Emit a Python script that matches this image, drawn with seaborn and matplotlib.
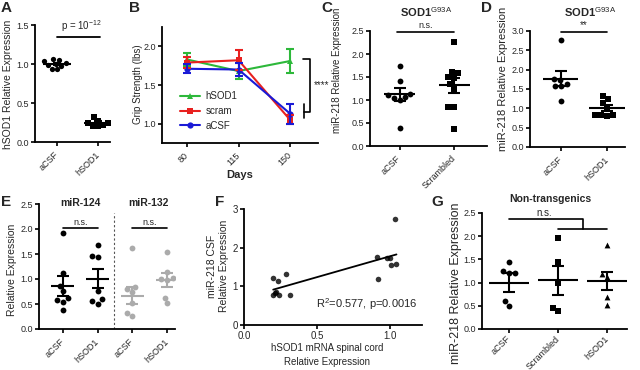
import warnings
import numpy as np
import pandas as pd
import matplotlib
matplotlib.use('Agg')
import matplotlib.pyplot as plt
import seaborn as sns

warnings.filterwarnings('ignore')

# =================================================================
# Data
# =================================================================
# A - hSOD1 knockdown
a_groups = ['aCSF', 'hSOD1']
a_acsf = [1.06, 1.05, 1.04, 1.01, 1.00, 0.99, 0.98, 0.94, 0.93]
a_hsod1 = [0.32, 0.27, 0.25, 0.25, 0.24, 0.22, 0.21, 0.20]
a_mean = [1.00, 0.25]
a_sem = [0.015, 0.013]

# B - grip strength
b_days = [80, 115, 150]
b_series = ['hSOD1', 'scram', 'aCSF']
b_hsod1 = [1.83, 1.68, 1.81]
b_hsod1_sem = [0.08, 0.10, 0.15]
b_scram = [1.79, 1.82, 1.05]
b_scram_sem = [0.07, 0.13, 0.06]
b_acsf = [1.71, 1.70, 1.13]
b_acsf_sem = [0.06, 0.08, 0.13]

# C - miR-218, aCSF vs scrambled
c_groups = ['aCSF', 'Scrambled']
c_acsf = [1.75, 1.41, 1.12, 1.10, 1.06, 1.04, 1.00, 0.40]
c_scram = [2.26, 1.60, 1.58, 1.50, 1.48, 1.35, 1.25, 0.85, 0.85, 0.37]
c_mean = [1.12, 1.32]
c_sem = [0.14, 0.16]

# D - miR-218, aCSF vs hSOD1
d_groups = ['aCSF', 'hSOD1']
d_acsf = [2.78, 1.75, 1.72, 1.62, 1.58, 1.57, 1.20]
d_hsod1 = [1.33, 1.25, 1.15, 1.03, 0.82, 0.82, 0.82, 0.80]
d_mean = [1.77, 1.00]
d_sem = [0.19, 0.08]

# E - miR-124 / miR-132
e_groups = ['124_aCSF', '124_hSOD1', '132_aCSF', '132_hSOD1']
e_labels = ['aCSF', 'hSOD1', 'aCSF', 'hSOD1']
e_124_acsf = [1.92, 1.13, 0.87, 0.77, 0.62, 0.59, 0.55, 0.39]
e_124_hsod1 = [1.69, 1.46, 1.45, 0.77, 0.60, 0.57, 0.51]
e_132_acsf = [1.62, 0.85, 0.80, 0.75, 0.52, 0.33, 0.27]
e_132_hsod1 = [1.55, 1.14, 1.02, 1.00, 0.98, 0.63, 0.52]
e_mean = [0.86, 1.01, 0.67, 0.99]
e_sem = [0.20, 0.19, 0.17, 0.14]

# F - correlation
f_hsod1 = [0.20, 0.235, 0.285, 0.20, 0.22, 0.24, 0.315, 0.21,
           0.913, 0.977, 1.00, 1.034, 1.01, 1.045, 0.92]
f_mir218 = [1.22, 1.15, 1.31, 0.77, 0.86, 0.78, 0.78, 0.83,
            1.75, 1.72, 1.72, 2.74, 1.56, 1.58, 1.20]

# G - non-transgenics
g_groups = ['aCSF', 'Scrambled', 'hSOD1']
g_acsf = [1.45, 1.25, 1.20, 1.20, 0.60, 0.50]
g_scram = [1.97, 1.45, 1.00, 0.45, 0.38]
g_hsod1 = [1.80, 1.18, 1.12, 0.70, 0.52]
g_mean = [1.00, 1.05, 1.04]
g_sem = [0.20, 0.31, 0.19]

# =================================================================
# Style
# =================================================================
sns.set_theme(style='ticks')
plt.rcParams['font.family'] = ['Liberation Sans', 'DejaVu Sans']
plt.rcParams['mathtext.fontset'] = 'custom'
plt.rcParams['mathtext.rm'] = 'Liberation Sans'
plt.rcParams['mathtext.bf'] = 'Liberation Sans:bold'
plt.rcParams['mathtext.it'] = 'Liberation Sans:italic'

W, H = 640, 370
fig = plt.figure(figsize=(6.4, 3.7), dpi=100)


def add_ax(x0, y0, x1, y1):
    # pixel box (top-left origin) -> axes
    ax = fig.add_axes([x0 / W, 1 - y1 / H, (x1 - x0) / W, (y1 - y0) / H])
    return ax


def ftext(x, y, s, **kw):
    kw.setdefault('ha', 'center')
    kw.setdefault('va', 'center')
    fig.text(x / W, 1 - y / H, s, **kw)


def style(ax):
    sns.despine(ax=ax)
    for sp in ['left', 'bottom']:
        ax.spines[sp].set_linewidth(1.3)
        ax.spines[sp].set_color('black')
    ax.tick_params(width=1.2, length=3, labelsize=6.5, pad=1.5, color='black')
    ax.set_xlabel('')
    ax.set_ylabel('')


def dots(ax, groups, values, markers, colors, size=4.2):
    df = pd.DataFrame({'group': np.repeat(groups, [len(v) for v in values]),
                       'value': np.concatenate(values)})
    for g, m, c in zip(groups, markers, colors):
        sns.swarmplot(data=df[df['group'] == g], x='group', y='value',
                      order=groups, marker=m, color=c, size=size, ax=ax)


def mean_sem(ax, means, sems, half=0.3, cap=4, colors=None):
    x = np.arange(len(means))
    if colors is None:
        colors = ['black'] * len(means)
    for xi, m, s, c in zip(x, means, sems, colors):
        ax.hlines(m, xi - half, xi + half, color=c, lw=1.5, zorder=4)
        ax.errorbar(xi, m, yerr=s, fmt='none', ecolor=c, elinewidth=1.5,
                    capsize=cap, capthick=1.5, zorder=4)


def cat_axis(ax, labels, xlim, pad=5):
    ax.set_xticks(range(len(labels)))
    ax.set_xticklabels(labels, rotation=45, ha='right', va='center',
                       rotation_mode='anchor')
    ax.tick_params(axis='x', pad=pad)
    ax.set_xlim(*xlim)


# =================================================================
# A
# =================================================================
ax = add_ax(35, 25, 110, 142)
dots(ax, a_groups, [a_acsf, a_hsod1], ['o', 's'], ['black', 'black'], size=3.8)
mean_sem(ax, a_mean, a_sem, half=0.35, cap=3)
style(ax)
ax.set_ylim(0, 1.5)
ax.set_yticks([0, 0.5, 1.0, 1.5])
ax.set_yticklabels(['0.0', '0.5', '1.0', '1.5'])
cat_axis(ax, a_groups, (-0.54, 1.29))
ax.plot([0, 1.05], [1.35, 1.35], color='black', lw=1.3, clip_on=False)
ax.text(0.6, 1.38, r'p = 10$^{-12}$', ha='center', va='bottom', fontsize=7)
ftext(8, 84, 'hSOD1 Relative Expression', rotation=90, fontsize=7.5)
ftext(6, 8, 'A', fontsize=11, fontweight='bold')

# =================================================================
# B
# =================================================================
ax = add_ax(162, 27, 318, 143)
b_colors = {'hSOD1': '#2db83a', 'scram': '#e8201f', 'aCSF': '#1a1ad6'}
b_df = pd.DataFrame({'day': b_days * 3,
                     'grip': b_hsod1 + b_scram + b_acsf,
                     'group': np.repeat(b_series, 3)})
sns.lineplot(data=b_df, x='day', y='grip', hue='group', hue_order=b_series,
             style='group', style_order=b_series,
             markers={'hSOD1': '^', 'scram': 's', 'aCSF': 'o'}, dashes=False,
             palette=b_colors, lw=1.5, markersize=4.5, markeredgewidth=0, ax=ax)
for name, vals, sems in zip(b_series, [b_hsod1, b_scram, b_acsf],
                            [b_hsod1_sem, b_scram_sem, b_acsf_sem]):
    ax.errorbar(b_days, vals, yerr=sems, fmt='none', ecolor=b_colors[name],
                elinewidth=1.5, capsize=3, capthick=1.5)
style(ax)
ax.set_xlim(63, 169)
ax.set_ylim(0.75, 2.25)
ax.set_xticks(b_days)
ax.set_xticklabels([str(d) for d in b_days], rotation=45, ha='right',
                   va='center', rotation_mode='anchor')
ax.tick_params(axis='x', pad=5)
ax.set_yticks([1.0, 1.5, 2.0])
sns.move_legend(ax, loc='lower left', bbox_to_anchor=(0.06, 0.03),
                frameon=False, fontsize=7, title=None, handlelength=2.0,
                labelspacing=0.5, handletextpad=0.6)
# significance bracket
ax.plot([159, 163.7, 163.7, 159.8], [1.83, 1.83, 1.15, 1.15],
        color='black', lw=1.2, clip_on=False)
ax.plot([159.8, 159.8], [1.26, 1.07], color='black', lw=1.2, clip_on=False)
ax.text(166, 1.50, '****', ha='left', va='center', fontsize=7)
ftext(138, 84, 'Grip Strength (lbs)', rotation=90, fontsize=7)
ftext(240, 175, 'Days', fontsize=8, fontweight='bold')
ftext(135, 8, 'B', fontsize=11, fontweight='bold')

# =================================================================
# C
# =================================================================
ax = add_ax(370, 31, 487, 146)
dots(ax, c_groups, [c_acsf, c_scram], ['o', 's'], ['black', 'black'])
mean_sem(ax, c_mean, c_sem, half=0.28, cap=4)
style(ax)
ax.set_ylim(0, 2.5)
ax.set_yticks(np.arange(0, 2.51, 0.5))
ax.set_yticklabels([f'{v:.1f}' for v in np.arange(0, 2.51, 0.5)])
cat_axis(ax, c_groups, (-0.54, 1.6))
ax.plot([-0.04, 1.0], [2.48, 2.48], color='black', lw=1.2, clip_on=False)
ax.text(0.48, 2.52, 'n.s.', ha='center', va='bottom', fontsize=6.5)
ftext(337, 70, 'miR-218 Relative Expression', rotation=90, fontsize=7)
ftext(426, 12, r'SOD1$^{\mathrm{G93A}}$', fontsize=8, fontweight='bold')
ftext(327, 8, 'C', fontsize=11, fontweight='bold')

# =================================================================
# D
# =================================================================
ax = add_ax(530, 31, 625, 147)
dots(ax, d_groups, [d_acsf, d_hsod1], ['o', 's'], ['black', 'black'])
mean_sem(ax, d_mean, d_sem, half=0.38, cap=4)
style(ax)
ax.set_ylim(0, 3.0)
ax.set_yticks(np.arange(0, 3.01, 0.5))
ax.set_yticklabels([f'{v:.1f}' for v in np.arange(0, 3.01, 0.5)])
cat_axis(ax, d_groups, (-0.67, 1.39))
ax.plot([0, 1.0], [2.97, 2.97], color='black', lw=1.2, clip_on=False)
ax.text(0.5, 3.03, '**', ha='center', va='bottom', fontsize=7)
ftext(503, 79, 'miR-218 Relative Expression', rotation=90, fontsize=8)
ftext(590, 12, r'SOD1$^{\mathrm{G93A}}$', fontsize=8, fontweight='bold')
ftext(486, 8, 'D', fontsize=11, fontweight='bold')

# =================================================================
# E
# =================================================================
ax = add_ax(39, 204, 175, 329)
grey = '#ababab'
dots(ax, e_groups, [e_124_acsf, e_124_hsod1, e_132_acsf, e_132_hsod1],
     ['o'] * 4, ['black', 'black', grey, grey])
mean_sem(ax, e_mean, e_sem, half=0.33, cap=4,
         colors=['black', 'black', grey, grey])
style(ax)
ax.set_ylim(0, 2.5)
ax.set_yticks(np.arange(0, 2.51, 0.5))
ax.set_yticklabels([f'{v:.1f}' for v in np.arange(0, 2.51, 0.5)])
cat_axis(ax, e_labels, (-0.69, 3.23))
ax.axvline(1.47, ymin=0, ymax=0.93, color='#555555', lw=0.8, ls=(0, (2, 2)))
for x0 in [0, 2]:
    ax.plot([x0, x0 + 1], [2.02, 2.02], color='black', lw=1.2)
    ax.text(x0 + 0.5, 2.05, 'n.s.', ha='center', va='bottom', fontsize=6.5)
ftext(80, 203, 'miR-124', fontsize=7.5, fontweight='bold')
ftext(148, 203, 'miR-132', fontsize=7.5, fontweight='bold')
ftext(12, 270, 'Relative Expression', rotation=90, fontsize=7.5)
ftext(6, 202, 'E', fontsize=11, fontweight='bold')

# =================================================================
# F
# =================================================================
ax = add_ax(244, 209, 422, 325)
sns.regplot(x=f_hsod1, y=f_mir218, ci=None, color='black', ax=ax,
            scatter_kws={'s': 16, 'linewidths': 0},
            line_kws={'lw': 1.3})
style(ax)
ax.set_xlim(0, 1.22)
ax.set_ylim(0, 3)
ax.set_xticks([0, 0.5, 1.0])
ax.set_xticklabels(['0.0', '0.5', '1.0'])
ax.set_yticks([0, 1, 2, 3])
ax.tick_params(labelsize=7)
ax.text(1.19, 0.55, r'R$^2$=0.577, p=0.0016', ha='right', va='center', fontsize=8)
ftext(218, 266, 'miR-218 CSF\nRelative Expression', rotation=90, fontsize=7.5,
      linespacing=1.3)
ftext(327, 355, 'hSOD1 mRNA spinal cord\nRelative Expression', fontsize=7,
      linespacing=1.5)
ftext(220, 202, 'F', fontsize=11, fontweight='bold')

# =================================================================
# G
# =================================================================
ax = add_ax(482, 213, 627, 329)
dots(ax, g_groups, [g_acsf, g_scram, g_hsod1], ['o', 's', '^'],
     ['black'] * 3)
mean_sem(ax, g_mean, g_sem, half=0.4, cap=4)
style(ax)
ax.set_ylim(0, 2.5)
ax.set_yticks(np.arange(0, 2.51, 0.5))
ax.set_yticklabels([f'{v:.1f}' for v in np.arange(0, 2.51, 0.5)])
cat_axis(ax, g_groups, (-0.55, 2.41), pad=3)
ax.plot([0, 1.51, 1.51], [2.37, 2.37, 2.16], color='black', lw=1.2, clip_on=False)
ax.plot([1, 2], [2.16, 2.16], color='black', lw=1.2, clip_on=False)
ax.text(0.73, 2.40, 'n.s.', ha='center', va='bottom', fontsize=7)
ftext(550, 199, 'Non-transgenics', fontsize=7.5, fontweight='bold')
ftext(456, 283, 'miR-218 Relative Expression', rotation=90, fontsize=9)
ftext(437, 202, 'G', fontsize=11, fontweight='bold')

fig.savefig('out.png', dpi=100)
